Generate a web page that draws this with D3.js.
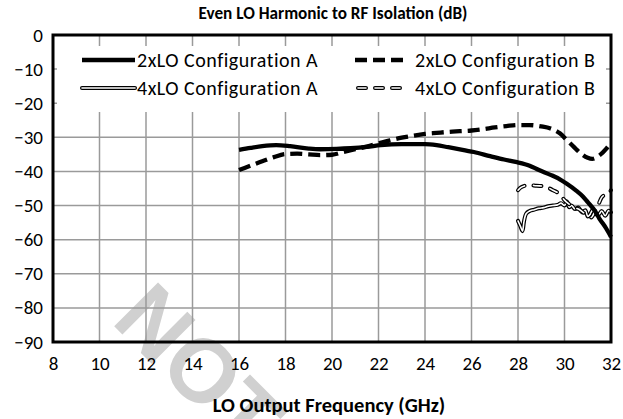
<!DOCTYPE html>
<html>
<head>
<meta charset="utf-8">
<script src="https://cdn.jsdelivr.net/npm/d3@7"></script>
<style>
  html, body { margin: 0; padding: 0; background: #fff; }
  svg { display: block; }
  text { font-family: Carlito, Calibri, Lato, "Open Sans", sans-serif; fill: #000; }
</style>
</head>
<body>
<svg id="chart" width="623" height="419"></svg>
<script>
// Even LO harmonic to RF isolation, dB vs LO output frequency, GHz
const freqTicks = [8, 10, 12, 14, 16, 18, 20, 22, 24, 26, 28, 30, 32];
const dbTicks = [0, -10, -20, -30, -40, -50, -60, -70, -80, -90];

const lo2aFreq = [16, 16.5, 17, 17.6, 18.2, 19, 19.5, 20.2, 20.8, 21.5, 22.1, 23, 24, 24.5, 25, 25.5, 26.1, 26.8, 27.4, 27.9, 28.5, 28.9, 29.4, 29.8, 30.1, 30.5, 30.8, 31.0, 31.3, 31.5, 31.8, 32];
const lo2aDb = [-33.7, -33.1, -32.6, -32.3, -32.6, -33.3, -33.5, -33.4, -33.2, -32.8, -32.3, -32.0, -32.0, -32.3, -32.9, -33.5, -34.3, -35.5, -36.5, -37.2, -38.3, -39.6, -41.0, -42.3, -43.6, -45.6, -47.4, -49.0, -51.5, -53.8, -56.8, -59.2];

const lo2bFreq = [16, 16.5, 17, 17.5, 18, 18.5, 19, 19.5, 20, 20.5, 21, 21.5, 22, 22.5, 23, 23.5, 24, 24.5, 25, 25.5, 26, 26.5, 27, 27.5, 28, 28.5, 29, 29.4, 29.8, 30.1, 30.4, 30.7, 31, 31.2, 31.5, 31.8, 32];
const lo2bDb = [-39.6, -38.3, -37.0, -35.8, -34.9, -34.8, -35.0, -35.2, -35.1, -34.3, -33.5, -32.7, -31.8, -30.9, -30.1, -29.5, -29.0, -28.7, -28.4, -28.2, -28.0, -27.6, -27.1, -26.7, -26.4, -26.4, -26.8, -27.4, -28.8, -30.8, -32.8, -34.7, -36.0, -36.3, -35.3, -33.3, -31.5];

const lo4aFreq = [28.0, 28.1, 28.2, 28.25, 28.35, 28.5, 28.7, 28.9, 29.1, 29.3, 29.5, 29.7, 29.85, 30.0, 30.1, 30.2, 30.3, 30.45, 30.6, 30.75, 30.9, 31.0, 31.1, 31.2, 31.3, 31.45, 31.6, 31.75, 31.9, 32];
const lo4aDb = [-54.5, -56.0, -57.5, -55.0, -52.4, -51.6, -51.2, -50.8, -50.6, -50.2, -50.0, -49.8, -49.3, -50.0, -48.8, -50.5, -50.0, -51.0, -50.6, -52.0, -51.4, -53.2, -52.6, -51.4, -52.2, -52.8, -51.6, -53.0, -51.5, -52.0];

const lo4bFreq = [28.0, 28.1, 28.3, 28.5, 28.8, 29.1, 29.3, 29.5, 29.7, 29.85, 30.0, 30.2, 30.4, 30.6, 30.8, 31.0, 31.15, 31.3, 31.45, 31.6, 31.75, 31.9, 32];
const lo4bDb = [-45.5, -44.8, -44.2, -44.0, -44.2, -44.3, -44.8, -45.5, -46.2, -47.2, -48.4, -49.6, -50.6, -51.0, -52.0, -53.0, -53.5, -51.8, -49.8, -47.6, -46.8, -46.2, -45.5];

const seriesNames = ["2xLO Configuration A", "2xLO Configuration B", "4xLO Configuration A", "4xLO Configuration B"];

const plot = { left: 53, right: 611, top: 35, bottom: 342 };

const svg = d3.select("#chart");
const x = d3.scaleLinear().domain([8, 32]).range([plot.left, plot.right]);
const y = d3.scaleLinear().domain([-90, 0]).range([plot.bottom, plot.top]);

// faint rotated watermark behind everything
svg.append("text")
  .attr("transform", "translate(110,322) rotate(45)")
  .attr("font-size", 90)
  .attr("font-weight", "bold")
  .style("font-family", "'Liberation Sans', Arial, sans-serif")
  .style("fill", "#d0d0d0")
  .text("NOT");

// gridlines
const grid = svg.append("g");
grid.selectAll("line.v").data(freqTicks.slice(1, -1)).join("line")
  .attr("x1", d => x(d)).attr("x2", d => x(d))
  .attr("y1", plot.top).attr("y2", plot.bottom)
  .attr("stroke", "#9a9a9a").attr("stroke-width", 1.5);
grid.selectAll("line.h").data(dbTicks.slice(1, -1)).join("line")
  .attr("x1", plot.left).attr("x2", plot.right)
  .attr("y1", d => y(d)).attr("y2", d => y(d))
  .attr("stroke", "#9a9a9a").attr("stroke-width", 1.5);

// axis tick labels via d3 axes (lines hidden)
const xAxis = svg.append("g")
  .attr("transform", `translate(0,${plot.bottom})`)
  .call(d3.axisBottom(x).tickValues(freqTicks).tickSize(0).tickPadding(15).tickFormat(d3.format("d")));
xAxis.select(".domain").remove();
xAxis.selectAll("text").attr("font-size", 19).style("font-family", null);

const yAxis = svg.append("g")
  .attr("transform", `translate(${plot.left},0)`)
  .call(d3.axisLeft(y).tickValues(dbTicks).tickSize(0).tickPadding(10).tickFormat(d3.format("d")));
yAxis.select(".domain").remove();
yAxis.selectAll("text").attr("font-size", 19).style("font-family", null);

// data lines
const line = d3.line().x(d => x(d[0])).y(d => y(d[1])).curve(d3.curveMonotoneX);
const zip = (a, b) => a.map((v, i) => [v, b[i]]);

const styles = {
  solid: {},
  dashed: { dash: "12 6" },
  double: { double: true, cap: "round" },
  doubleDashed: { double: true, dash: "8 9", cap: "round" }
};
const layersFor = s => s.double
  ? [{ w: 4, c: "#000" }, { w: 1.6, c: "#fff" }]
  : [{ w: 4.3, c: "#000" }];

const lines = svg.append("g");
function drawSeries(data, style) {
  layersFor(style).forEach(l => {
    lines.append("path")
      .datum(data)
      .attr("d", line)
      .attr("fill", "none")
      .attr("stroke", l.c)
      .attr("stroke-width", l.w)
      .attr("stroke-linecap", style.cap || "butt")
      .attr("stroke-linejoin", "round")
      .attr("stroke-dasharray", style.dash || null);
  });
}
drawSeries(zip(lo4aFreq, lo4aDb), styles.double);
drawSeries(zip(lo4bFreq, lo4bDb), styles.doubleDashed);
drawSeries(zip(lo2bFreq, lo2bDb), styles.dashed);
drawSeries(zip(lo2aFreq, lo2aDb), styles.solid);

// legend panel with white fill
svg.append("rect")
  .attr("x", 57).attr("y", 46).attr("width", 549).attr("height", 66)
  .attr("fill", "#fff");

const legendItems = [
  { name: seriesNames[0], lx: 82, len: 53, tx: 137, ty: 60, style: styles.solid },
  { name: seriesNames[1], lx: 355, len: 48, tx: 415, ty: 60, style: styles.dashed },
  { name: seriesNames[2], lx: 82, len: 53, tx: 137, ty: 88, style: styles.double },
  { name: seriesNames[3], lx: 358, len: 44, tx: 415, ty: 88, style: styles.doubleDashed }
];
const legend = svg.append("g");
legendItems.forEach(it => {
  layersFor(it.style).forEach(l => {
    legend.append("line")
      .attr("x1", it.lx).attr("x2", it.lx + it.len)
      .attr("y1", it.ty).attr("y2", it.ty)
      .attr("stroke", l.c).attr("stroke-width", l.w)
      .attr("stroke-linecap", it.style.cap || "butt")
      .attr("stroke-dasharray", it.style.dash || null);
  });
  legend.append("text")
    .attr("x", it.tx)
    .attr("y", it.ty)
    .attr("dy", "0.35em")
    .attr("font-size", 20)
    .attr("letter-spacing", 0.5)
    .text(it.name);
});

// plot frame
svg.append("rect")
  .attr("x", plot.left).attr("y", plot.top)
  .attr("width", plot.right - plot.left).attr("height", plot.bottom - plot.top)
  .attr("fill", "none").attr("stroke", "#000").attr("stroke-width", 3);

// titles
svg.append("text")
  .attr("x", 333).attr("y", 19)
  .attr("text-anchor", "middle")
  .attr("font-size", 17.2).attr("font-weight", "bold")
  .text("Even LO Harmonic to RF Isolation (dB)");

svg.append("text")
  .attr("x", 329).attr("y", 412)
  .attr("text-anchor", "middle")
  .attr("font-size", 20.5).attr("font-weight", "bold")
  .text("LO Output Frequency (GHz)");
</script>
</body>
</html>
